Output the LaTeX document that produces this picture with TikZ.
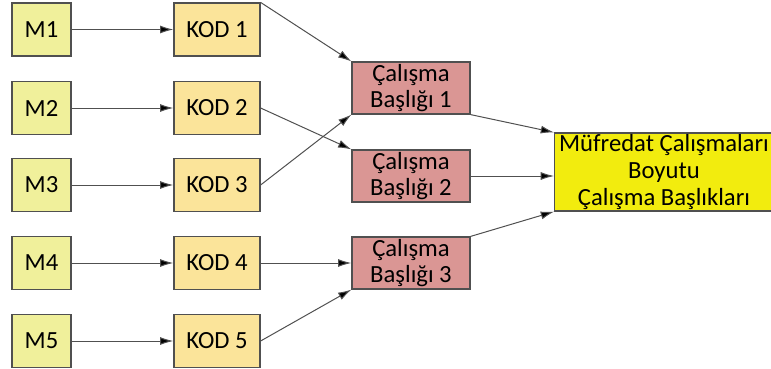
\documentclass[tikz,border=0pt]{standalone}
\usepackage{fontspec}
\setmainfont{Carlito}
\usetikzlibrary{arrows.meta}
\definecolor{mfill}{HTML}{F0F09B}
\definecolor{kfill}{HTML}{FBE49A}
\definecolor{cfill}{HTML}{DA9694}
\definecolor{bfill}{HTML}{F2EC0E}
\definecolor{edge}{HTML}{505050}
\tikzset{
  box/.style={draw=edge, line width=0.9pt, inner sep=0pt, align=center,
    font=\fontsize{18.5}{19.5}\selectfont},
  mbox/.style={box, fill=mfill, minimum width=44.25pt, minimum height=39.75pt},
  kbox/.style={box, fill=kfill, minimum width=64.5pt, minimum height=39.75pt},
  cbox/.style={box, fill=cfill, minimum width=88.5pt, minimum height=39pt},
  bbox/.style={box, fill=bfill, minimum width=164pt, minimum height=58.5pt,
    font=\fontsize{18.5}{20}\selectfont},
  link/.style={-{Latex[length=10pt,width=6pt,fill=black]}, line width=0.75pt, draw=edge}
}
\begin{document}
\begin{tikzpicture}[x=0.75pt, y=-0.75pt]
    \useasboundingbox (0,0) rectangle (771,368);
    \node[mbox] (M1) at (41.5,29.5) {M1};
    \node[mbox] (M2) at (41.5,108) {M2};
    \node[mbox] (M3) at (41.5,185) {M3};
    \node[mbox] (M4) at (41.5,263) {M4};
    \node[mbox] (M5) at (41.5,341) {M5};
    \node[kbox] (K1) at (217,29.5) {KOD 1};
    \node[kbox] (K2) at (217,108) {KOD 2};
    \node[kbox] (K3) at (217,185) {KOD 3};
    \node[kbox] (K4) at (217,263) {KOD 4};
    \node[kbox] (K5) at (217,341) {KOD 5};
    \node[cbox] (C1) at (411,88) {Çalışma\\Başlığı 1};
    \node[cbox] (C2) at (411,176) {Çalışma\\Başlığı 2};
    \node[cbox] (C3) at (411,263) {Çalışma\\Başlığı 3};
    \node[bbox] (B) at (664,172) {Müfredat Çalışmaları\\Boyutu\\Çalışma Başlıkları};
    \foreach \i in {1,...,5}
      \draw[link] (M\i) -- (K\i);
    \draw[link] (K1.north east) -- (C1.north west);
    \draw[link] (K2.east) -- (C2.north west);
    \draw[link] (K3.east) -- (C1.south west);
    \draw[link] (K4.east) -- (C3.west);
    \draw[link] (K5.east) -- (C3.south west);
    \draw[link] (C1.south east) -- (B.north west);
    \draw[link] (C2.east) -- (C2.east -| B.west);
    \draw[link] (C3.north east) -- (B.south west);
\end{tikzpicture}
\end{document}
